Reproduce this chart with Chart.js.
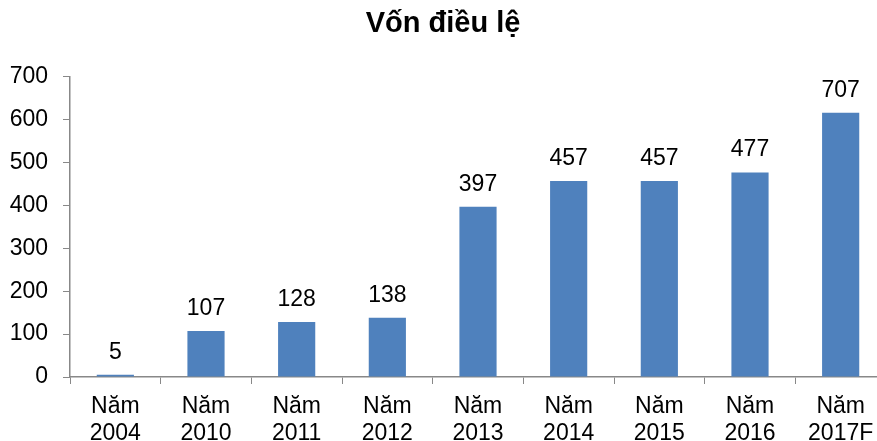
<!DOCTYPE html>
<html>
<head>
<meta charset="utf-8">
<script src="https://cdn.jsdelivr.net/npm/chart.js@4/dist/chart.umd.min.js"></script>
<style>
  html, body { margin: 0; padding: 0; background: #fff; overflow: hidden; width: 877px; height: 441px; }
  #wrap { width: 900px; height: 441px; }
</style>
</head>
<body>
<div id="wrap"><canvas id="c" width="900" height="441"></canvas></div>
<script>
const titleText = "Vốn điều lệ";
const categories = [
  ["Năm", "2004"], ["Năm", "2010"], ["Năm", "2011"], ["Năm", "2012"],
  ["Năm", "2013"], ["Năm", "2014"], ["Năm", "2015"], ["Năm", "2016"], ["Năm", "2017F"]
];
// bar heights as drawn in the picture
const barValues = [5, 107, 128, 138, 397, 457, 457, 477, 616];
// data label texts as printed in the picture
const barLabels = ["5", "107", "128", "138", "397", "457", "457", "477", "707"];
const yTicks = [0, 100, 200, 300, 400, 500, 600, 700];

const FONT = "'Liberation Sans', Arial, sans-serif";
const AXIS = '#888888';

const dataLabelPlugin = {
  id: 'dataLabels',
  afterDatasetsDraw(chart) {
    const ctx = chart.ctx;
    const meta = chart.getDatasetMeta(0);
    ctx.save();
    ctx.font = "23px " + FONT;
    ctx.fillStyle = '#000';
    ctx.textAlign = 'center';
    ctx.textBaseline = 'alphabetic';
    meta.data.forEach((bar, i) => {
      ctx.fillText(barLabels[i], bar.x, bar.y - 16);
    });
    ctx.restore();
  }
};

new Chart(document.getElementById('c'), {
  type: 'bar',
  data: {
    labels: categories,
    datasets: [{
      data: barValues,
      backgroundColor: '#4F81BD',
      borderWidth: 0,
      barPercentage: 0.41,
      categoryPercentage: 1.0
    }]
  },
  options: {
    responsive: false,
    animation: false,
    devicePixelRatio: 1,
    layout: { padding: { left: 0, right: 14, top: 0, bottom: 0 } },
    plugins: {
      legend: { display: false },
      tooltip: { enabled: false },
      title: {
        display: true,
        text: titleText,
        color: '#000',
        font: { family: FONT, size: 29, weight: 'bold' },
        padding: { top: 7, bottom: 35 }
      }
    },
    scales: {
      x: {
        grid: { display: true, drawOnChartArea: false, drawTicks: true, tickLength: 7, color: AXIS, offset: true },
        border: { display: true, color: AXIS, width: 1.5 },
        ticks: { color: '#000', font: { family: FONT, size: 23, lineHeight: 1.18 }, padding: 9, maxRotation: 0, autoSkip: false },
        afterFit(scale) { scale.height = 64; }
      },
      y: {
        min: 0, max: 700,
        afterBuildTicks(scale) { scale.ticks = yTicks.map(v => ({ value: v })); },
        grid: { display: true, drawOnChartArea: false, drawTicks: true, tickLength: 7, color: AXIS },
        border: { display: true, color: AXIS, width: 1.5 },
        ticks: { color: '#000', font: { family: FONT, size: 23 }, padding: 15 },
        afterFit(scale) { scale.width = 70; }
      }
    }
  },
  plugins: [dataLabelPlugin]
});
</script>
</body>
</html>
